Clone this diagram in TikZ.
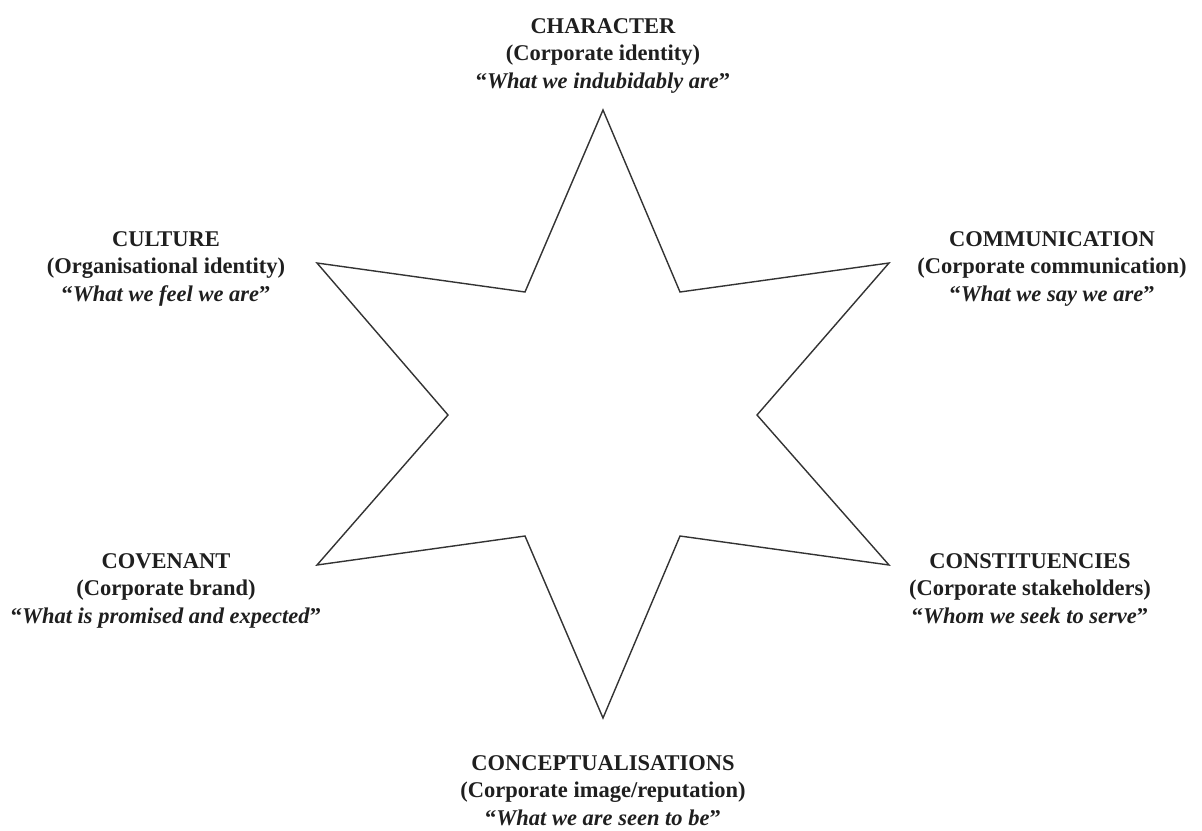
\documentclass[tikz,border=0pt]{standalone}
\usepackage{fontspec}
\setmainfont{Liberation Serif}
\begin{document}
\begin{tikzpicture}[x=1pt,y=-1pt,
  lbl/.style={align=center,anchor=base,inner sep=0pt,text=black!88,
    font=\fontsize{22.5}{27.5}\selectfont\bfseries},
  starline/.style={draw=black!80,line width=1.4pt,line join=miter,fill=white}]
\useasboundingbox (0,0) rectangle (1202,830);
% star vertices
\coordinate (t)   at (603,110);
\coordinate (uri) at (680,292);
\coordinate (uro) at (889,263);
\coordinate (ri)  at (757,415);
\coordinate (lro) at (889,565);
\coordinate (lri) at (680,536);
\coordinate (b)   at (603,718);
\coordinate (lli) at (525,536);
\coordinate (llo) at (317,565);
\coordinate (li)  at (448,415);
\coordinate (ulo) at (317,263);
\coordinate (uli) at (525,292);
\draw[starline] (t) -- (uri) -- (uro) -- (ri) -- (lro) -- (lri) -- (b)
  -- (lli) -- (llo) -- (li) -- (ulo) -- (uli) -- cycle;
% labels (anchor = baseline of last line)
\node[lbl] (character) at (603,88) {CHARACTER\\(Corporate identity)\\``\textit{What we indubidably are}''};
\node[lbl] (culture) at (166,301) {CULTURE\\(Organisational identity)\\``\textit{What we feel we are}''};
\node[lbl] (communication) at (1052,301) {COMMUNICATION\\(Corporate communication)\\``\textit{What we say we are}''};
\node[lbl] (covenant) at (166,623) {COVENANT\\(Corporate brand)\\``\textit{What is promised and expected}''};
\node[lbl] (constituencies) at (1030,623) {CONSTITUENCIES\\(Corporate stakeholders)\\``\textit{Whom we seek to serve}''};
\node[lbl] (concept) at (603,825) {CONCEPTUALISATIONS\\(Corporate image/reputation)\\``\textit{What we are seen to be}''};
\end{tikzpicture}
\end{document}
